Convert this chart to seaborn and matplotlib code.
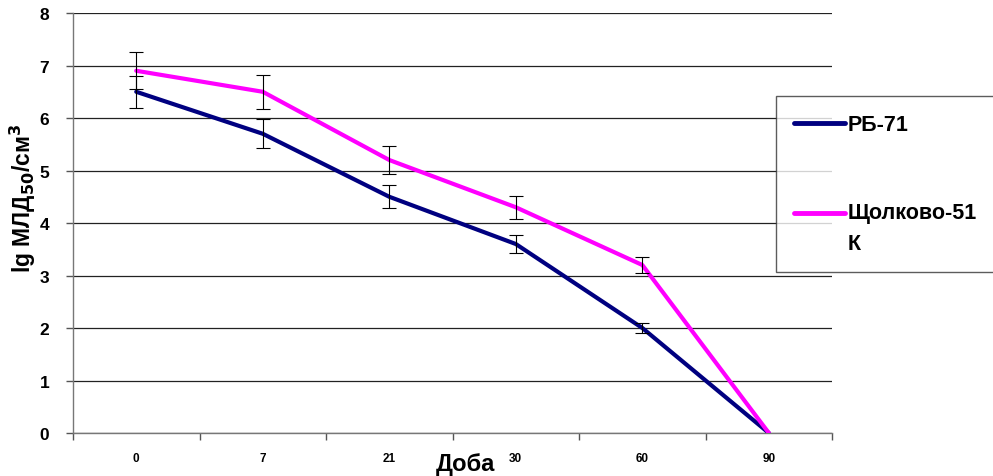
import numpy as np
import pandas as pd
import matplotlib
matplotlib.use("Agg")
import matplotlib.pyplot as plt
from matplotlib.legend_handler import HandlerLine2D
import seaborn as sns

# дані
days = ["0", "7", "21", "30", "60", "90"]
rb71 = [6.5, 5.7, 4.5, 3.6, 2.0, 0.0]
rb71_err = [0.30, 0.28, 0.22, 0.17, 0.10, 0.0]
shch51 = [6.9, 6.5, 5.2, 4.3, 3.2, 0.0]
shch51_err = [0.35, 0.32, 0.26, 0.22, 0.16, 0.0]
series_names = ["РБ-71", "Щолково-51\nК"]
colors = ["#000080", "#FF00FF"]

sns.set_style("white")
plt.rcParams["font.family"] = ["Liberation Sans", "DejaVu Sans"]
plt.rcParams.update({"text.color": "black", "axes.labelcolor": "black",
                     "xtick.color": "black", "ytick.color": "black"})

pos = np.arange(len(days))
df = pd.DataFrame({
    "pos": np.concatenate([pos, pos]),
    "val": rb71 + shch51,
    "strain": [series_names[0]] * len(days) + [series_names[1]] * len(days),
})

fig = plt.figure(figsize=(9.93, 4.77), dpi=100)
ax = fig.add_axes([0.0735, 0.0901, 0.7645, 0.8805])

sns.lineplot(data=df, x="pos", y="val", hue="strain", palette=colors,
             lw=3, sort=False, ax=ax, legend=False, zorder=3)

# похибки
for vals, errs in [(rb71, rb71_err), (shch51, shch51_err)]:
    e = np.array(errs)
    m = e > 0
    ax.errorbar(pos[m], np.array(vals)[m], yerr=e[m], fmt="none",
                ecolor="black", elinewidth=0.8, capsize=5, capthick=0.8, zorder=4)

ax.set_xlim(-0.5, len(days) - 0.5)
ax.set_ylim(0, 8)
ax.set_yticks(range(0, 9))
ax.yaxis.grid(True, color="#222222", lw=0.9)
ax.set_axisbelow(True)

ax.set_xticks(pos)
ax.set_xticklabels(days, fontsize=8.5, fontweight="bold")
ax.set_xticks(np.arange(-0.5, len(days) + 0.5, 1), minor=True)
ax.tick_params(axis="x", which="major", bottom=True, length=0, pad=14)
ax.tick_params(axis="x", which="minor", bottom=True, length=5, width=1,
               color="#555555", direction="out")
ax.tick_params(axis="y", left=True, length=5, width=1, color="#555555",
               direction="out", pad=12, labelsize=12.5)
for t in ax.get_yticklabels():
    t.set_fontweight("bold")

for s in ["top", "right"]:
    ax.spines[s].set_visible(False)
for s in ["left", "bottom"]:
    ax.spines[s].set_color("#777777")
    ax.spines[s].set_linewidth(1.0)

ax.set_xlabel("Доба", fontsize=17, fontweight="bold")
ax.xaxis.set_label_coords(0.517, -0.045)
ax.set_ylabel("lg МЛД$_\\mathbf{50}$/см$^\\mathbf{3}$", fontsize=16.5, fontweight="bold")
ax.yaxis.set_label_coords(-0.046, 0.56)


class LiftedLine(HandlerLine2D):
    def __init__(self, lift=0, **kw):
        super().__init__(**kw)
        self.lift = lift

    def create_artists(self, legend, orig_handle, xdescent, ydescent,
                       width, height, fontsize, trans):
        return super().create_artists(legend, orig_handle, xdescent,
                                      ydescent - self.lift, width, height,
                                      fontsize, trans)


handles = [plt.Line2D([], [], color=c, lw=3.5) for c in colors]
leg = fig.legend(handles, series_names, loc="upper left",
                 bbox_to_anchor=(776 / 993, 1 - 97 / 477), borderaxespad=0,
                 frameon=True, fancybox=False, handlelength=2.35,
                 handletextpad=0.15, labelspacing=3.1, borderpad=0.85,
                 handler_map={handles[1]: LiftedLine(lift=22)},
                 prop={"weight": "bold", "size": 15.5})
for t in leg.get_texts():
    t.set_linespacing(1.6)
leg.get_frame().set_edgecolor("#333333")
leg.get_frame().set_linewidth(1.0)

fig.savefig("out.png", dpi=100)
